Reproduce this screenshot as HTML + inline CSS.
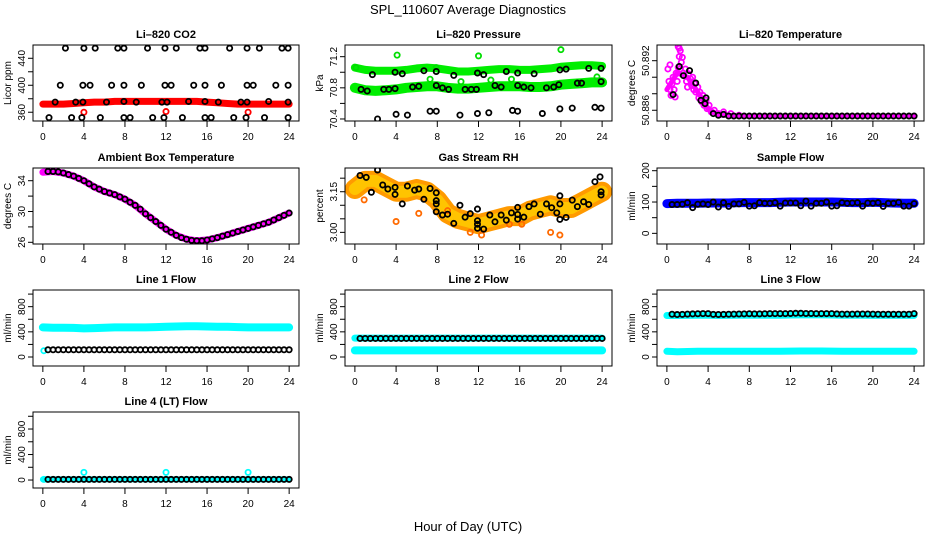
<!DOCTYPE html>
<html><head><meta charset="utf-8"><style>
html,body{margin:0;padding:0;background:#fff;}
svg{display:block;font-family:"Liberation Sans",Arial,sans-serif;}
</style></head><body>
<svg id="chart" width="936" height="540" viewBox="0 0 936 540">
<text x="468" y="14" text-anchor="middle" font-size="13">SPL_110607  Average Diagnostics</text>
<text x="468" y="531" text-anchor="middle" font-size="13">Hour of Day (UTC)</text>
</svg>
<script>
// ---------- shared data ----------
const xTicks = [0,4,8,12,16,20,24];
const hours = [0,1,2,3,4,5,6,7,8,9,10,11,12,13,14,15,16,17,18,19,20,21,22,23,24];
const halfHours = [0.5,1,1.5,2,2.5,3,3.5,4,4.5,5,5.5,6,6.5,7,7.5,8,8.5,9,9.5,10,10.5,11,11.5,12,12.5,13,13.5,14,14.5,15,15.5,16,16.5,17,17.5,18,18.5,19,19.5,20,20.5,21,21.5,22,22.5,23,23.5,24];

// CO2
const co2Band = [372,372,372,373,374,375,375,376,376,376,376,376,376,376,376,376,375,374,373,372,372,372,372,372,372];
const co2BlackT = [2.2,4,5.1,7.3,7.9,10.2,11.9,13,15.3,15.8,18.2,19.9,21.1,23.3,23.9, 1.7,3.9,4.6,6.7,7.9,9.6,11.9,12.5,14.7,15.8,17.4,19.9,20.5,22.7,23.9, 1.2,3.2,3.9,6.2,7.9,9.1,11.6,12.1,14.2,15.8,17.1,19.3,19.9,22.0,23.9, 0.6,2.8,3.8,5.6,7.9,8.5,10.7,11.8,13.6,15.8,16.4,18.6,19.8,21.6,23.9];
const co2BlackV = [455,455,455,455,455,455,455,455,455,455,455,455,455,455,455, 400,400,400,400,400,400,400,400,400,400,400,400,400,400,400, 375,375,375,375,376,375,375,375,376,376,375,375,375,376,375, 352,352,352,352,352,352,352,352,352,352,352,352,352,352,352];
const co2RedT = [4,12,20];
const co2RedV = [360,361,360];

// Pressure
const presUpper = [71.06,71.03,71.02,71.02,71.02,71.03,71.05,71.06,71.05,71.03,71.01,71.01,71.02,71.03,71.04,71.04,71.03,71.03,71.04,71.05,71.07,71.08,71.09,71.09,71.08];
const presLower = [70.80,70.77,70.76,70.77,70.78,70.80,70.81,70.82,70.82,70.80,70.79,70.79,70.80,70.81,70.82,70.82,70.82,70.81,70.81,70.82,70.84,70.85,70.86,70.87,70.87];
const presBlackT = [1.7,3.9,4.6,6.7,7.9,9.6,11.9,12.5,14.7,15.8,17.4,19.9,20.5,22.7,23.9, 0.6,1.2,2.8,3.3,3.9,5.6,6.2,7.9,8.5,9.1,10.7,11.3,11.8,13.6,14.2,15.8,16.4,17.1,18.6,19.3,19.8,21.6,22.0,23.9, 2.2,4.0,5.1,7.3,7.9,10.2,11.9,13.0,15.3,15.8,18.2,19.9,21.1,23.3,23.9];
const presBlackV = [70.97,71.0,70.98,71.02,71.01,70.96,70.99,70.97,71.01,70.99,70.98,71.03,71.04,71.05,71.05, 70.78,70.76,70.78,70.78,70.79,70.81,70.82,70.83,70.80,70.78,70.78,70.78,70.78,70.83,70.81,70.83,70.81,70.80,70.80,70.81,70.84,70.86,70.86,70.88, 70.40,70.46,70.45,70.50,70.50,70.45,70.47,70.48,70.51,70.50,70.47,70.53,70.54,70.55,70.54];
const presGreenT = [4.1,12,20,7.3,13.2,15.2,23.5,10.3,0.1,7.9];
const presGreenV = [71.22,71.21,71.29,70.91,70.90,70.91,70.94,70.88,71.06,71.06];

// Li-820 temperature
const ltMagT = [0.1,0.3,0.2,0.3,0.4,0.5,0.6,0.7,0.8,0.9,1.0,1.1,1.2,1.3,1.4,1.5,1.6,1.8,1.9,2.0,2.1,2.3,2.4,2.5,2.6,2.7,2.8,3.0,3.1,3.2,3.4,3.5,3.6,3.8,3.9,4.1,4.3,4.6,5.0,5.5,6.2,7.0,1.1,1.2,1.3];
const ltMagV = [50.8910,50.8915,50.8895,50.8885,50.8878,50.8892,50.8900,50.8885,50.8876,50.8905,50.8895,50.8912,50.8925,50.8910,50.8918,50.8924,50.8905,50.8910,50.8895,50.8888,50.8904,50.8898,50.8890,50.8900,50.8885,50.8892,50.8882,50.8888,50.8875,50.8882,50.8870,50.8878,50.8866,50.8872,50.8862,50.8866,50.8858,50.8860,50.8856,50.8858,50.8856,50.8854,50.8937,50.8935,50.8932];
const ltFlat = [50.8885,50.8905,50.8900,50.8882,50.8862,50.8854,50.8854,50.8853,50.8853,50.8853,50.8853,50.8853,50.8853,50.8853,50.8853,50.8853,50.8853,50.8853,50.8853,50.8853,50.8853,50.8853,50.8853,50.8853,50.8853];
const ltBlackT = [0.6,1.2,1.6,2.2,2.8,3.3,3.7,3.8,4.5,5.0,5.5,6.0,6.5,7.0,7.5,8.0,8.5,9.0,9.5,10,10.5,11,11.5,12,12.5,13,13.5,14,14.5,15,15.5,16,16.5,17,17.5,18,18.5,19,19.5,20,20.5,21,21.5,22,22.5,23,23.5,24];
const ltBlackV = [50.8879,50.8913,50.8902,50.8908,50.8893,50.8872,50.8868,50.8875,50.8856,50.8854,50.8855,50.8853,50.8853,50.8853,50.8853,50.8853,50.8853,50.8853,50.8853,50.8853,50.8853,50.8853,50.8853,50.8853,50.8853,50.8853,50.8853,50.8853,50.8853,50.8853,50.8853,50.8853,50.8853,50.8853,50.8853,50.8853,50.8853,50.8853,50.8853,50.8853,50.8853,50.8853,50.8853,50.8853,50.8853,50.8853,50.8853,50.8853];

// Ambient box temperature
const ambBand = [35.1,35.2,35.0,34.6,34.0,33.2,32.6,32.2,31.6,30.8,29.7,28.7,27.7,26.9,26.4,26.2,26.3,26.6,27.0,27.4,27.8,28.2,28.6,29.2,29.8];
const ambBlack = [35.2,35.2,35.15,35.0,34.8,34.6,34.3,34.0,33.6,33.2,32.9,32.6,32.4,32.2,31.9,31.6,31.2,30.8,30.3,29.7,29.2,28.7,28.2,27.7,27.3,26.9,26.6,26.4,26.25,26.2,26.2,26.3,26.45,26.6,26.8,27.0,27.2,27.4,27.6,27.8,28.0,28.2,28.4,28.6,28.9,29.2,29.5,29.8];

// Gas stream RH
const rhBand = [3.16,3.19,3.19,3.17,3.15,3.15,3.16,3.15,3.12,3.07,3.05,3.04,3.03,3.04,3.05,3.06,3.06,3.08,3.09,3.10,3.09,3.09,3.11,3.13,3.15];
const rhBlackT = [0.5,1.1,1.6,2.2,2.7,3.2,3.9,3.9,4.6,5.1,5.8,6.2,6.7,7.3,7.9,7.9,7.9,7.9,8.5,9.0,9.6,10.2,10.7,11.2,11.9,11.9,11.9,11.9,12.5,13.1,13.6,14.2,14.7,15.2,15.8,15.8,15.8,16.4,16.9,17.4,18.0,18.6,19.1,19.6,19.9,19.9,19.9,20.5,21.1,21.6,22.2,22.7,23.3,23.8,23.9,23.9];
const rhBlackV = [3.21,3.203,3.148,3.23,3.175,3.16,3.166,3.14,3.105,3.171,3.156,3.16,3.122,3.162,3.146,3.117,3.105,3.076,3.064,3.067,3.033,3.10,3.056,3.069,3.086,3.043,3.03,3.015,3.012,3.064,3.039,3.064,3.045,3.072,3.092,3.066,3.049,3.056,3.095,3.105,3.067,3.105,3.091,3.072,3.135,3.105,3.048,3.055,3.119,3.095,3.113,3.103,3.187,3.205,3.15,3.138];
const rhOrangeT = [0.9,4.0,6.2,9.0,11.2,12.3,15.0,16.2,19.0,19.9];
const rhOrangeV = [3.12,3.04,3.07,3.08,3.00,2.99,3.03,3.03,3.00,2.99];

// Sample flow
const sfBand = [95,96,96,96,97,97,97,98,98,98,98,99,100,100,100,100,100,99,98,98,99,98,97,96,96];
const sfBlack = [92,92,93,98,82,93,94,92,100,84,98,86,94,94,99,87,88,98,96,96,98,87,97,97,97,88,103,87,96,96,100,87,88,98,96,97,98,87,97,96,98,86,96,96,99,87,87,95];

// Line flows
const l1Band = [470,465,465,462,455,460,465,470,470,470,470,475,480,485,490,490,485,480,480,475,470,470,470,470,470];
const l1Black = [115,115,115,115,115,115,115,115,115,115,115,115,115,115,115,115,115,115,115,115,115,115,115,115,115,115,115,115,115,115,115,115,115,115,115,115,115,115,115,115,115,115,115,115,115,115,115,115];
const l2BandHi = [300,300,300,300,300,300,300,300,300,300,300,300,300,300,300,300,300,300,300,300,300,300,300,300,300];
const l2BandLo = [105,105,105,105,105,105,105,105,105,105,105,105,105,105,105,105,105,105,105,105,105,105,105,105,105];
const l2Black = [295,295,295,295,295,295,295,295,295,295,295,295,295,295,295,295,295,295,295,295,295,295,295,295,295,295,295,295,295,295,295,295,295,295,295,295,295,295,295,295,295,295,295,295,295,295,295,295];
const l3BandHi = [660,660,662,665,665,660,662,665,665,665,665,665,668,670,670,670,668,665,665,665,662,662,662,662,662];
const l3BandLo = [90,85,88,90,90,90,90,90,90,90,90,92,94,96,96,96,94,92,92,90,90,90,90,90,90];
const l3Black = [680,675,678,682,685,688,690,690,678,676,678,680,682,684,686,688,686,686,688,690,690,690,690,692,695,695,692,692,690,690,690,690,685,682,682,682,684,684,684,682,680,680,680,680,680,680,680,690];
const l4Band = [10,10,10,10,10,10,10,10,10,10,10,10,10,10,10,10,10,10,10,10,10,10,10,10,10];
const l4Black = [10,10,10,10,10,10,10,10,10,10,10,10,10,10,10,10,10,10,10,10,10,10,10,10,10,10,10,10,10,10,10,10,10,10,10,10,10,10,10,10,10,10,10,10,10,10,10,10];
const l4CyanT = [4,12,20,0.1];
const l4CyanV = [120,120,120,10];

// ---------- drawing ----------
const NS = "http://www.w3.org/2000/svg";
const svg = document.getElementById("chart");
const COLX = [[33,299],[345,612],[657,924]];
const ROWY = [[45,121],[168,244],[290,366],[412,488]];

function mk(tag, attrs, parent){
  const e = document.createElementNS(NS, tag);
  for (const k in attrs) e.setAttribute(k, attrs[k]);
  (parent||svg).appendChild(e);
  return e;
}

function panel(col,row,title,ylab,ylo,yhi,yTicks,yLabels,slug){
  const [x0,x1] = COLX[col], [y0,y1] = ROWY[row];
  const g = mk("g",{});
  
  
  const w = x1-x0;
  const sx = t => x0 + w*0.04/1.08 + (t/24)*w/1.08;
  const sy = v => y1 - (v-ylo)/(yhi-ylo)*(y1-y0);
  const clip = mk("clipPath",{id:"clip-"+slug},g);
  mk("rect",{x:x0,y:y0,width:w,height:y1-y0},clip);
  const plot = mk("g",{"clip-path":"url(#clip-"+slug+")"},g);
  
  
  const box = mk("rect",{x:x0,y:y0,width:w,height:y1-y0,fill:"none",stroke:"#000","stroke-width":1},g);
  
  
  const tt = mk("text",{x:(x0+x1)/2,y:y0-7,"text-anchor":"middle","font-size":11,"font-weight":"bold"},g);
  tt.textContent = title;
  
  
  const yl = mk("text",{x:0,y:0,"text-anchor":"middle","font-size":10,transform:`translate(${x0-22},${(y0+y1)/2}) rotate(-90)`},g);
  yl.textContent = ylab;
  
  
  xTicks.forEach(t=>{
    mk("line",{x1:sx(t),x2:sx(t),y1:y1,y2:y1+6,stroke:"#000"},g);
    const lb = mk("text",{x:sx(t),y:y1+19,"text-anchor":"middle","font-size":10},g);
    lb.textContent = t;
    
    
  });
  yTicks.forEach(v=>{
    mk("line",{x1:x0-5,x2:x0,y1:sy(v),y2:sy(v),stroke:"#000"},g);
  });
  yLabels.forEach(v=>{
    const lb = mk("text",{x:0,y:0,"text-anchor":"middle","font-size":10,transform:`translate(${x0-8},${sy(v)}) rotate(-90)`},g);
    lb.textContent = v;
    
    
  });
  return {
    band(xs, vs, color, width, name){
      const d = xs.map((t,i)=>(i?"L":"M")+sx(t).toFixed(1)+","+sy(vs[i]).toFixed(1)).join("");
      const p = mk("path",{d:d,fill:"none",stroke:color,"stroke-width":width,"stroke-linecap":"round","stroke-linejoin":"round"},plot);
      
      
    },
    pts(xs, vs, color, name, r){
      xs.forEach((t,i)=>{
        const c = mk("circle",{cx:sx(t),cy:sy(vs[i]),r:r||2.6,fill:"none",stroke:color,"stroke-width":1.8},plot);
        
        
      });
    }
  };
}

// Row 1
let p = panel(0,0,"Li\u2013820 CO2","Licor ppm",347,459.7,[360,380,400,420,440],[360,400,440],"co2");
p.band(hours, co2Band, "#ff0000", 7, "co2-band");
p.pts(co2RedT, co2RedV, "#ff0000", "co2-red-point");
p.pts(co2BlackT, co2BlackV, "#000", "co2-point");

p = panel(1,0,"Li\u2013820 Pressure","kPa",70.374,71.35,[70.4,70.6,70.8,71.0,71.2],["70.4","70.8","71.2"],"pressure");
p.band(hours, presUpper, "#00ee00", 8, "pressure-upper-band");
p.band(hours, presLower, "#00ee00", 10, "pressure-lower-band");
p.pts(presGreenT, presGreenV, "#00dd00", "pressure-green-point");
p.pts(presBlackT, presBlackV, "#000", "pressure-point");

p = panel(2,0,"Li\u2013820 Temperature","degrees C",50.8847,50.8939,[50.886,50.888,50.890,50.892],["50.886","50.892"],"li820-temp");
p.band(hours, ltFlat, "#ff00ff", 5, "li820-temp-band");
p.pts(ltMagT, ltMagV, "#ff00ff", "li820-temp-magenta-point");
p.pts(ltBlackT, ltBlackV, "#000", "li820-temp-point");

// Row 2
p = panel(0,1,"Ambient Box Temperature","degrees C",25.78,35.65,[26,28,30,32,34],[26,30,34],"ambient");
p.band(hours, ambBand, "#ff00ff", 7, "ambient-band");
p.pts(halfHours, ambBlack, "#000", "ambient-point");

p = panel(1,1,"Gas Stream RH","percent",2.957,3.2376,[3.00,3.05,3.10,3.15,3.20],["3.00","3.15"],"rh");
p.band(hours, rhBand, "#ff9a00", 20, "rh-band-outer");
p.band(hours, rhBand, "#ffc400", 12, "rh-band-inner");
p.pts(rhOrangeT, rhOrangeV, "#ff6a00", "rh-orange-point");
p.pts(rhBlackT, rhBlackV, "#000", "rh-point");

p = panel(2,1,"Sample Flow","ml/min",-34,208.6,[0,50,100,150,200],[0,100,200],"sample-flow");
p.band(hours, sfBand, "#0000ff", 9, "sample-flow-band");
p.pts(halfHours, sfBlack, "#000", "sample-flow-point");

// Row 3
p = panel(0,2,"Line 1 Flow","ml/min",-143,1065,[0,200,400,600,800,1000],[0,400,800],"line1");
p.band(hours, l1Band, "#00ffff", 8, "line1-band");
p.pts([0.1],[100],"#00ffff","line1-cyan-point");
p.pts(halfHours, l1Black, "#000", "line1-point");

p = panel(1,2,"Line 2 Flow","ml/min",-143,1065,[0,200,400,600,800,1000],[0,400,800],"line2");
p.band(hours, l2BandLo, "#00ffff", 8, "line2-low-band");
p.band(hours, l2BandHi, "#00ffff", 7, "line2-high-band");
p.pts(halfHours, l2Black, "#000", "line2-point");

p = panel(2,2,"Line 3 Flow","ml/min",-143,1065,[0,200,400,600,800,1000],[0,400,800],"line3");
p.band(hours, l3BandLo, "#00ffff", 7, "line3-low-band");
p.band(hours, l3BandHi, "#00ffff", 7, "line3-high-band");
p.pts(halfHours, l3Black, "#000", "line3-point");

// Row 4
p = panel(0,3,"Line 4 (LT) Flow","ml/min",-125,1067,[0,200,400,600,800,1000],[0,400,800],"line4");
p.band(hours, l4Band, "#00ffff", 6, "line4-band");
p.pts(l4CyanT, l4CyanV, "#00ffff", "line4-cyan-point");
p.pts(halfHours, l4Black, "#000", "line4-point");
</script>
</body></html>
